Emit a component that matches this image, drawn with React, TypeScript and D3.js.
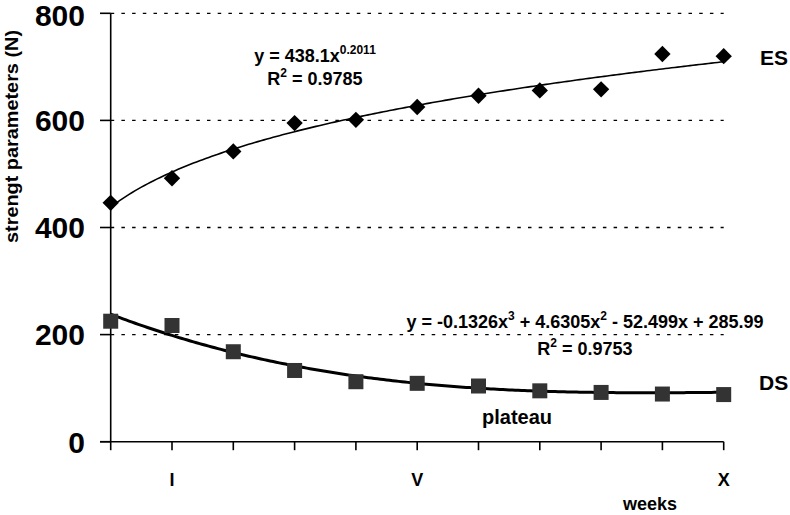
import React from "react";
import * as d3 from "d3";

const weeks = [0, 1, 2, 3, 4, 5, 6, 7, 8, 9, 10];
const esValues = [446, 492, 542, 595, 601, 625, 646, 656, 658, 724, 720];
const dsValues = [225, 217, 168, 133, 112, 109, 104, 95, 92, 89, 88];
const yTicks = [0, 200, 400, 600, 800];
const xTickLabels: [number, string][] = [[1, "I"], [5, "V"], [10, "X"]];

const esFit = (n: number) => 438.1 * Math.pow(n, 0.2011);
const dsFit = (n: number) => -0.1326 * n ** 3 + 4.6305 * n ** 2 - 52.499 * n + 285.99;

const W = 790;
const H = 515;
const FONT = "'Liberation Sans', Arial, sans-serif";

export default function App() {
  const x = d3.scaleLinear().domain([0, 10]).range([110.7, 723.7]);
  const y = d3.scaleLinear().domain([0, 800]).range([441.7, 13.3]);

  const fitXs = d3.range(0, 10.0001, 0.05);
  const line = d3
    .line<[number, number]>()
    .x((d) => x(d[0]))
    .y((d) => y(d[1]));
  const esPath = line(fitXs.map((w) => [w, esFit(w + 1)] as [number, number])) || "";
  const dsPath = line(fitXs.map((w) => [w, dsFit(w + 1)] as [number, number])) || "";

  const x0 = x(0);
  const x1 = x(10);
  const diamond = d3.symbol().type(d3.symbolDiamond2).size(170)() || "";

  return (
    <svg
      width={W}
      height={H}
      style={{ position: "absolute", left: 0, top: 0, background: "#fff" }}
      fontFamily={FONT}
      fontWeight="bold"
    >
      <rect width={W} height={H} fill="#fff" />
      {yTicks.filter((t) => t > 0).map((t) => (
        <line
          key={"g" + t}
          x1={x0}
          x2={x1}
          y1={y(t)}
          y2={y(t)}
          stroke="#000"
          strokeWidth={1.3}
          strokeDasharray="3.5 7.2"
        />
      ))}
      <line x1={x0} x2={x0} y1={y(800)} y2={y(0)} stroke="#000" strokeWidth={1.6} />
      <line x1={100} x2={x1} y1={y(0)} y2={y(0)} stroke="#000" strokeWidth={1.6} />
      {yTicks.map((t) => (
        <g key={"yt" + t}>
          <line x1={100} x2={x0} y1={y(t)} y2={y(t)} stroke="#000" strokeWidth={1.6} />
          <text x={85} y={y(t) + (t === 800 ? 1.5 : 0)} dy="0.36em" textAnchor="end" fontSize={30}>
            {t}
          </text>
        </g>
      ))}
      {weeks.map((w) => (
        <line key={"xt" + w} x1={x(w)} x2={x(w)} y1={y(0)} y2={y(0) + 8.5} stroke="#000" strokeWidth={1.6} />
      ))}
      {xTickLabels.map(([w, l]) => (
        <text key={"xl" + l} x={x(w)} y={486} textAnchor="middle" fontSize={18}>
          {l}
        </text>
      ))}
      <text x={650} y={510} textAnchor="middle" fontSize={18}>
        weeks
      </text>
      <text
        transform={`translate(17.5,136.5) rotate(-90)`}
        textAnchor="middle"
        fontSize={19}
        textLength={213}
        lengthAdjust="spacingAndGlyphs"
      >
        strengt parameters (N)
      </text>

      <path d={esPath} fill="none" stroke="#000" strokeWidth={1.6} />
      <path d={dsPath} fill="none" stroke="#000" strokeWidth={3} />

      {esValues.map((v, i) => (
        <path key={"es" + i} d={diamond} transform={`translate(${x(weeks[i])},${y(v)})`} fill="#000" />
      ))}
      {dsValues.map((v, i) => (
        <rect
          key={"ds" + i}
          x={x(weeks[i]) - 7.5}
          y={y(v) - 7.5}
          width={15}
          height={15}
          fill="#333"
        />
      ))}

      <text x={760} y={65} fontSize={21}>ES</text>
      <text x={759} y={390} fontSize={21}>DS</text>
      <text x={517} y={424} textAnchor="middle" fontSize={20}>plateau</text>

      <text x={315} y={62} textAnchor="middle" fontSize={18}>
        y = 438.1x<tspan dy={-8} fontSize={12}>0.2011</tspan>
      </text>
      <text x={315} y={85} textAnchor="middle" fontSize={18}>
        R<tspan dy={-8} fontSize={12}>2</tspan><tspan dy={8}> = 0.9785</tspan>
      </text>
      <text x={585} y={328} textAnchor="middle" fontSize={18}>
        y = -0.1326x<tspan dy={-8} fontSize={12}>3</tspan>
        <tspan dy={8}> + 4.6305x</tspan>
        <tspan dy={-8} fontSize={12}>2</tspan>
        <tspan dy={8}> - 52.499x + 285.99</tspan>
      </text>
      <text x={585} y={355} textAnchor="middle" fontSize={18}>
        R<tspan dy={-8} fontSize={12}>2</tspan><tspan dy={8}> = 0.9753</tspan>
      </text>
    </svg>
  );
}
